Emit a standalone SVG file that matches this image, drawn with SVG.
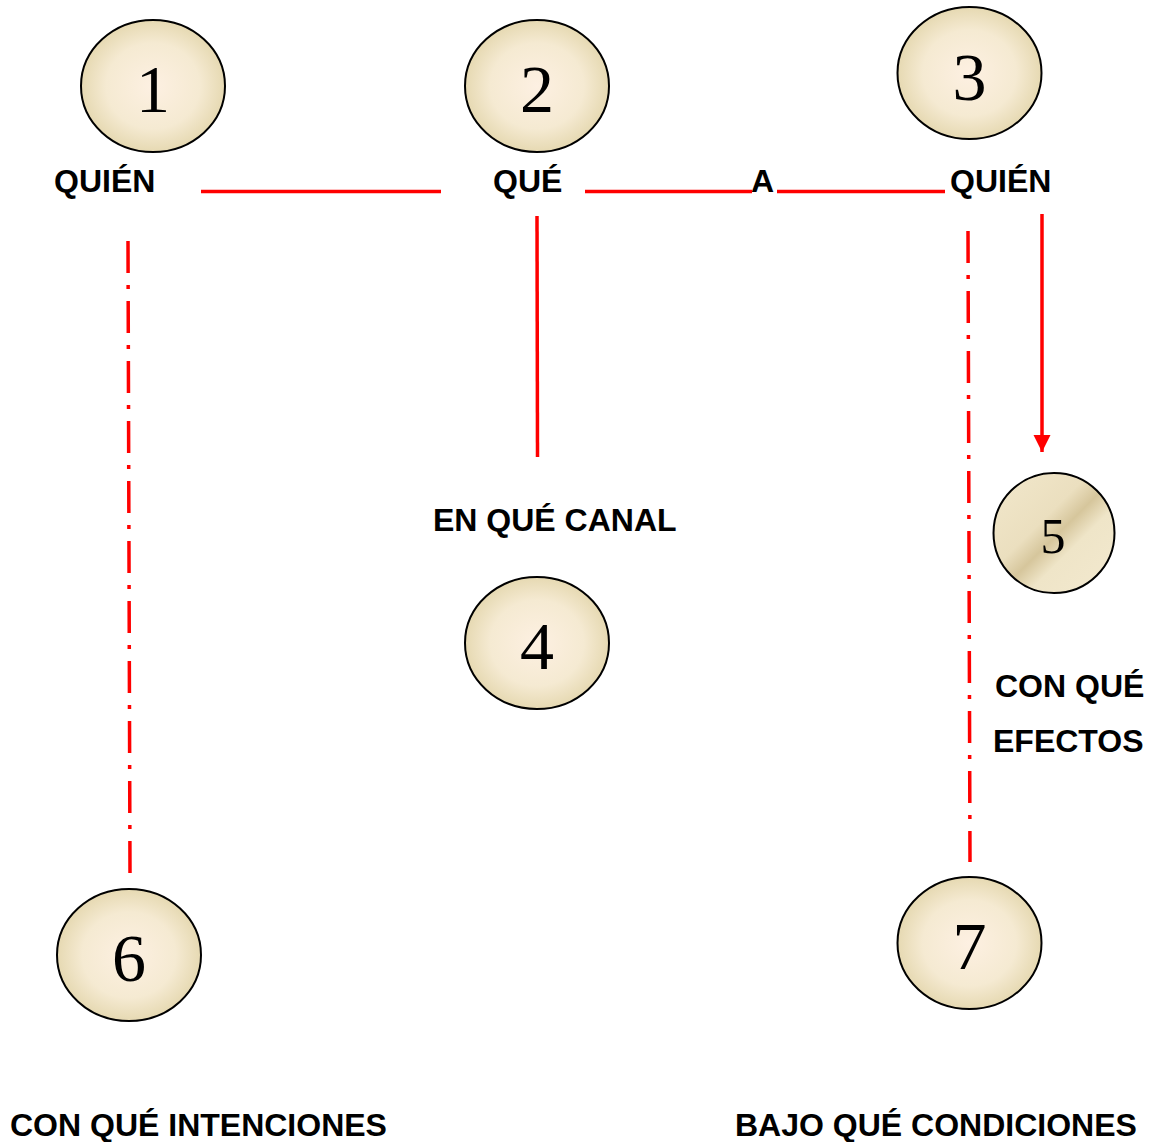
<svg xmlns="http://www.w3.org/2000/svg" width="1151" height="1142" viewBox="0 0 1151 1142">
<defs>
<radialGradient id="g" cx="50%" cy="50%" r="50%">
<stop offset="0" stop-color="#fdf0e2"/>
<stop offset="0.65" stop-color="#f5ead2"/>
<stop offset="1" stop-color="#e6d9b2"/>
</radialGradient>
<linearGradient id="g5" x1="0" y1="0" x2="1" y2="1">
<stop offset="0" stop-color="#f2e8cc"/>
<stop offset="0.4" stop-color="#ebdfbf"/>
<stop offset="0.52" stop-color="#d6c69c"/>
<stop offset="0.64" stop-color="#efe5c8"/>
<stop offset="1" stop-color="#f3e9cf"/>
</linearGradient>
<marker id="ah" viewBox="0 0 10 10" refX="10" refY="5" markerWidth="5" markerHeight="5" markerUnits="strokeWidth" orient="auto">
<path d="M0,0 L10,5 L0,10 z" fill="#ff0000"/>
</marker>
<style>
.c{fill:url(#g);stroke:#000;stroke-width:2}
.n{font-family:"Liberation Serif","Times New Roman",serif;font-size:68px;fill:#000;text-anchor:middle}
.t{font-family:"Liberation Sans",Arial,sans-serif;font-weight:bold;font-size:32px;fill:#000}
.l{stroke:#ff0000;stroke-width:3.5;fill:none}
.d{stroke:#ff0000;stroke-width:3.5;fill:none;stroke-dasharray:32 12 4 12}
</style>
</defs>
<g id="connectors">
<line class="l" x1="201" y1="191.5" x2="441" y2="191.5"/>
<line class="l" x1="585" y1="191.5" x2="752" y2="191.5"/>
<line class="l" x1="777" y1="191.5" x2="945" y2="191.5"/>
<line class="l" x1="537" y1="216" x2="537.5" y2="457"/>
<line class="d" x1="128" y1="241" x2="130" y2="873"/>
<line class="d" x1="968" y1="231" x2="970" y2="862"/>
<line class="l" x1="1042" y1="214" x2="1042" y2="452" marker-end="url(#ah)"/>
</g>
<g id="node1"><ellipse class="c" cx="153" cy="86" rx="72" ry="66"/><text class="n" x="153" y="112">1</text></g>
<g id="node2"><ellipse class="c" cx="537" cy="86" rx="72" ry="66"/><text class="n" x="537" y="112">2</text></g>
<g id="node3"><ellipse class="c" cx="969.5" cy="73" rx="72" ry="66"/><text class="n" x="969.5" y="100">3</text></g>
<g id="node4"><ellipse class="c" cx="537" cy="643" rx="72" ry="66"/><text class="n" x="537" y="669">4</text></g>
<g id="node5"><ellipse cx="1054" cy="533" rx="60.5" ry="60" fill="url(#g5)" stroke="#000" stroke-width="2"/><text class="n" x="1053" y="553" style="font-size:50px">5</text></g>
<g id="node6"><ellipse class="c" cx="129" cy="955" rx="72" ry="66"/><text class="n" x="129" y="981">6</text></g>
<g id="node7"><ellipse class="c" cx="969.5" cy="943" rx="72" ry="66"/><text class="n" x="969.5" y="969">7</text></g>
<g id="labels">
<text class="t" x="54" y="192">QUIÉN</text>
<text class="t" x="493" y="192">QUÉ</text>
<text class="t" x="751" y="192">A</text>
<text class="t" x="950" y="192">QUIÉN</text>
<text class="t" x="433" y="531">EN QUÉ CANAL</text>
<text class="t" x="995" y="697">CON QUÉ</text>
<text class="t" x="993" y="752">EFECTOS</text>
<text class="t" x="10" y="1136">CON QUÉ INTENCIONES</text>
<text class="t" x="735" y="1136">BAJO QUÉ CONDICIONES</text>
</g>
</svg>
